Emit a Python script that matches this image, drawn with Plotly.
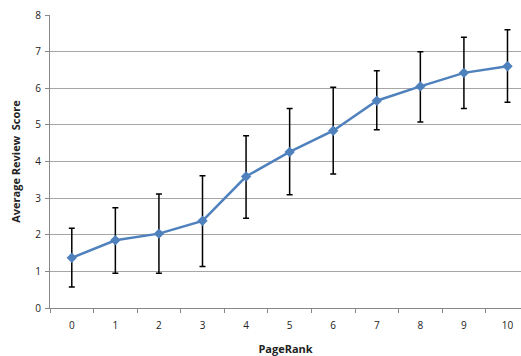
import plotly.graph_objects as go

pagerank = ["0", "1", "2", "3", "4", "5", "6", "7", "8", "9", "10"]
avg_score = [1.37, 1.85, 2.03, 2.38, 3.59, 4.26, 4.84, 5.66, 6.05, 6.42, 6.60]
err_upper = [2.18, 2.74, 3.11, 3.61, 4.70, 5.45, 6.03, 6.48, 7.00, 7.39, 7.60]
err_lower = [0.57, 0.95, 0.95, 1.13, 2.45, 3.09, 3.66, 4.87, 5.08, 5.45, 5.62]
y_ticks = [0, 1, 2, 3, 4, 5, 6, 7, 8]

plus = [u - m for u, m in zip(err_upper, avg_score)]
minus = [m - l for m, l in zip(avg_score, err_lower)]

fig = go.Figure()
fig.add_trace(go.Scatter(
    x=pagerank, y=avg_score, mode="lines+markers",
    line=dict(color="#4F81BD", width=2.5),
    marker=dict(symbol="diamond", size=8, color="#4F81BD"),
    error_y=dict(type="data", symmetric=False, array=plus, arrayminus=minus,
                 color="black", thickness=1.5, width=3),
    showlegend=False,
    cliponaxis=False,
))

font = dict(family="Open Sans, DejaVu Sans, sans-serif", size=10, color="#222")
fig.update_layout(
    width=521, height=356,
    margin=dict(l=50, r=0, t=15, b=48, autoexpand=False),
    paper_bgcolor="white", plot_bgcolor="white",
    font=font,
    xaxis=dict(
        type="category", range=[-0.5, 10.31], automargin=False,
        tickson="boundaries", ticks="outside", ticklen=4, tickcolor="#888",
        ticklabelstandoff=8,
        showgrid=False, showline=True, linecolor="#888", linewidth=1,
        title=dict(text="<b>PageRank</b>", font=dict(size=11, color="#222"), standoff=16),
        tickfont=dict(size=10),
    ),
    yaxis=dict(
        range=[0, 8], tickvals=y_ticks, ticks="outside", ticklen=4, tickcolor="#888",
        ticklabelstandoff=2,
        showgrid=True, gridcolor="#a6a6a6", gridwidth=1, automargin=False,
        showline=True, linecolor="#888", linewidth=1, zeroline=False,
        title=dict(text="<b>Average Review  Score</b>", font=dict(size=11, color="#222"), standoff=12),
        tickfont=dict(size=10),
    ),
)

fig.write_html("out.html", config={"displayModeBar": False},
               post_script="document.body.style.margin='0';document.body.style.overflow='hidden';")
